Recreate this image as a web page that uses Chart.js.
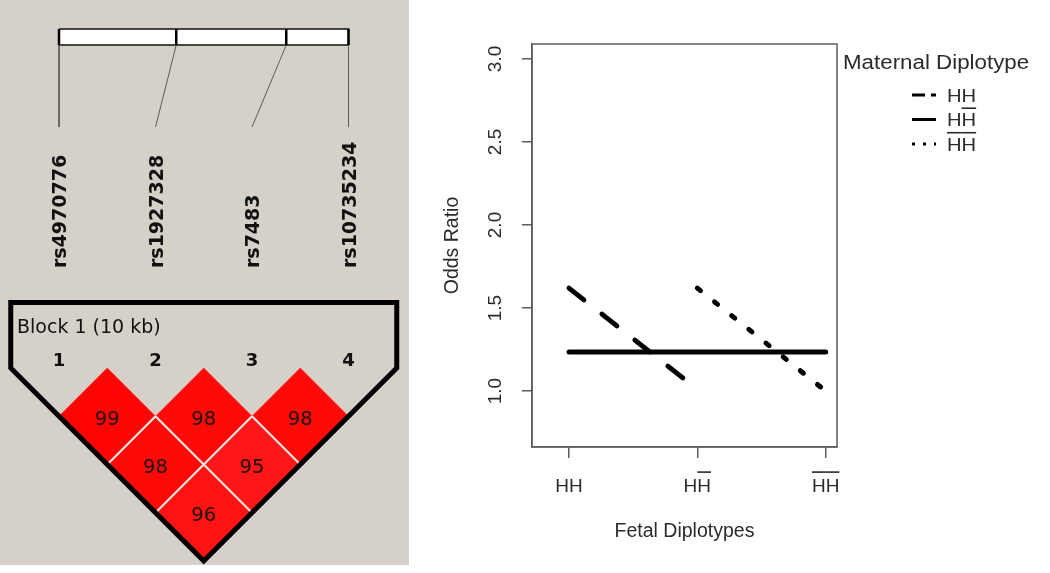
<!DOCTYPE html>
<html><head><meta charset="utf-8">
<script src="https://cdn.jsdelivr.net/npm/chart.js@4.4.1/dist/chart.umd.min.js"></script>
<style>
html,body{margin:0;padding:0;background:#fff;width:1050px;height:573px;overflow:hidden}
#ld{position:absolute;left:0;top:0;background:#d5d1c9}
#or{position:absolute;left:410px;top:0}
</style></head><body>
<canvas id="ld" width="409" height="565"></canvas>
<canvas id="or" width="640" height="573"></canvas>
<script>
// ---------------- DATA : LD block (Haploview) ----------------
const snpNames   = ['rs4970776', 'rs1927328', 'rs7483', 'rs10735234'];
const snpPosKb   = [0, 4.05, 7.85, 10.0];
const blockSpanKb = 10;
const blockLabel = 'Block 1 (10 kb)';
const ldPairs    = [[1,2],[2,3],[3,4],[1,3],[2,4],[1,4]];
const ldDprime   = [99, 98, 98, 98, 95, 96];

// ---------------- DATA : odds ratio plot ----------------
const fetalDiplotypes    = ['HH', 'HH\u0305', 'H\u0305H\u0305'];
const maternalDiplotypes = ['HH', 'HH\u0305', 'H\u0305H\u0305'];
const orMaternalHH       = [1.62, 1.01, null];
const orMaternalHHbar    = [1.235, 1.235, 1.235];
const orMaternalHbarHbar = [null, 1.62, 1.00];
const orTicks            = [1.0, 1.5, 2.0, 2.5, 3.0];
const xTitle = 'Fetal Diplotypes';
const yTitle = 'Odds Ratio';
const legendTitle = 'Maternal Diplotype';

// ---------------- LD panel ----------------
const LDL = { outlineTop: -0.679, numBase: -0.02, blockX: 0.565, blockBase: -0.363,
              nameBase: -1.036, barTop: -3.513, barBot: -3.347, connBot: -2.497 };
const nSnp = snpNames.length;
const kbToX = kb => 1 + kb / blockSpanKb * (nSnp - 1);
function dpColor(d) { const g = Math.max(0, Math.round(446 * (1 - d / 100))); return `rgb(255,${g},${g})`; }
function seg(a, b, color, width, order, extra) {
  return Object.assign({ data: [a, b], borderColor: color, borderWidth: width, pointRadius: 0, fill: false, order }, extra || {});
}
const ldDatasets = [];
// block outline
ldDatasets.push({
  data: [{x: 0.5, y: LDL.outlineTop}, {x: nSnp + 0.5, y: LDL.outlineTop}, {x: nSnp + 0.5, y: 0},
         {x: (1 + nSnp) / 2, y: nSnp / 2}, {x: 0.5, y: 0}, {x: 0.5, y: LDL.outlineTop}],
  borderColor: '#000', borderWidth: 5, borderJoinStyle: 'miter', borderCapStyle: 'square',
  pointRadius: 0, fill: false, order: 0
});
// diamonds
ldPairs.forEach(([i, j], k) => {
  const cx = (i + j) / 2, cy = (j - i) / 2;
  ldDatasets.push({
    data: [{x: cx, y: cy - 0.5}, {x: cx + 0.5, y: cy}, {x: cx, y: cy + 0.5}, {x: cx - 0.5, y: cy}, {x: cx, y: cy - 0.5}],
    borderColor: dpColor(ldDprime[k]), borderWidth: 0.5, backgroundColor: dpColor(ldDprime[k]),
    fill: 'shape', pointRadius: 0, order: 3
  });
});
// separators between neighbouring cells
const hasCell = (i, j) => ldPairs.some(p => p[0] === i && p[1] === j);
ldPairs.forEach(([i, j]) => {
  const cx = (i + j) / 2, cy = (j - i) / 2;
  if (hasCell(i - 1, j)) ldDatasets.push(seg({x: cx - 0.5, y: cy}, {x: cx, y: cy + 0.5}, '#efe9e2', 2.2, 2));
  if (hasCell(i, j + 1)) ldDatasets.push(seg({x: cx + 0.5, y: cy}, {x: cx, y: cy + 0.5}, '#efe9e2', 2.2, 2));
});
// gene bar
ldDatasets.push({
  data: [{x: kbToX(0), y: LDL.barTop}, {x: kbToX(blockSpanKb), y: LDL.barTop}, {x: kbToX(blockSpanKb), y: LDL.barBot},
         {x: kbToX(0), y: LDL.barBot}, {x: kbToX(0), y: LDL.barTop}],
  borderColor: '#111', borderWidth: 1.5, backgroundColor: '#ffffff', fill: 'shape', pointRadius: 0, order: 5
});
snpPosKb.forEach((kb, k) => {
  ldDatasets.push(seg({x: kbToX(kb), y: LDL.barTop}, {x: kbToX(kb), y: LDL.barBot}, '#000', 2.5, 4));
  ldDatasets.push(seg({x: kbToX(kb), y: LDL.barBot}, {x: k + 1, y: LDL.connBot}, '#5a5a5a', 1, 4));
});

const ldText = {
  id: 'ldText',
  afterDatasetsDraw(chart) {
    const {ctx, scales: {x, y}} = chart;
    const X = v => x.getPixelForValue(v), Y = v => y.getPixelForValue(v);
    ctx.save();
    ctx.textBaseline = 'alphabetic';
    ctx.fillStyle = '#1e1414';
    ctx.font = '19.5px "DejaVu Sans"';
    ctx.textAlign = 'center';
    ldPairs.forEach(([i, j], k) => ctx.fillText(String(ldDprime[k]), X((i + j) / 2), Y((j - i) / 2) + 8.3));
    ctx.fillStyle = '#111';
    ctx.font = 'bold 18px "DejaVu Sans"';
    snpNames.forEach((n, k) => ctx.fillText(String(k + 1), X(k + 1), Y(LDL.numBase)));
    ctx.font = '19px "DejaVu Sans"';
    ctx.textAlign = 'left';
    ctx.fillText(blockLabel, X(LDL.blockX), Y(LDL.blockBase));
    ctx.font = 'bold 19px "DejaVu Sans"';
    snpNames.forEach((n, k) => {
      ctx.save();
      ctx.translate(X(k + 1) + 7, Y(LDL.nameBase));
      ctx.rotate(-Math.PI / 2);
      ctx.textAlign = 'left';
      ctx.fillText(n, 0, 0);
      ctx.restore();
    });
    ctx.restore();
  }
};

new Chart(document.getElementById('ld'), {
  type: 'line',
  data: { datasets: ldDatasets },
  options: {
    responsive: false, animation: false, events: [],
    layout: { padding: 0 },
    plugins: { legend: { display: false }, tooltip: { enabled: false } },
    scales: {
      x: { type: 'linear', display: false, min: 0.3886, max: 4.6269 },
      y: { type: 'linear', display: false, reverse: true, min: -3.8135, max: 2.0414 }
    }
  },
  plugins: [ldText]
});

// ---------------- Odds ratio panel ----------------
const RF = '"Liberation Sans", Arial, sans-serif';
const TXT = '#2b2b2b';
const AX = '#5c5c5c';

function drawBarred(ctx, str, x, yBase, size, gap, align) {
  const glyphs = [];
  for (const ch of str) {
    if (ch === '\u0305') { if (glyphs.length) glyphs[glyphs.length - 1].bar = true; }
    else glyphs.push({ ch, bar: false });
  }
  const base = glyphs.map(g => g.ch).join('');
  const w = ctx.measureText(base).width;
  let cx = align === 'center' ? x - w / 2 : x;
  const capTop = yBase - size * 0.716;
  ctx.textAlign = 'left';
  ctx.textBaseline = 'alphabetic';
  glyphs.forEach(g => {
    const gw = ctx.measureText(g.ch).width;
    ctx.fillText(g.ch, cx, yBase);
    if (g.bar) ctx.fillRect(cx, capTop - gap - 1.6, gw, 1.6);
    cx += gw;
  });
}

function orSeries(label, vals, dash, legendDash) {
  return {
    label,
    data: vals.map((v, i) => (v == null ? null : { x: i + 1, y: v })).filter(Boolean),
    borderColor: '#000', borderWidth: 5, borderDash: dash, borderCapStyle: 'round', borderJoinStyle: 'round',
    pointRadius: 0, pointHoverRadius: 0, fill: false, legendDash
  };
}

const orText = {
  id: 'orText',
  afterDraw(chart) {
    const {ctx, chartArea: a, scales: {x, y}} = chart;
    ctx.save();
    ctx.strokeStyle = AX; ctx.lineWidth = 1.5;
    ctx.strokeRect(a.left, a.top, a.right - a.left, a.bottom - a.top);
    ctx.fillStyle = TXT;
    ctx.font = `19px ${RF}`;
    orTicks.forEach(v => {
      ctx.save();
      ctx.translate(84.5, y.getPixelForValue(v));
      ctx.rotate(-Math.PI / 2);
      ctx.textAlign = 'center'; ctx.textBaseline = 'alphabetic';
      ctx.fillText(v.toFixed(1), 0, 19 * 0.716 / 2);
      ctx.restore();
    });
    fetalDiplotypes.forEach((lab, i) => drawBarred(ctx, lab, x.getPixelForValue(i + 1), 491.5, 19, 5, 'center'));
    // legend
    ctx.save();
    ctx.translate(433, 69); ctx.scale(1.145, 1);
    ctx.font = `19.5px ${RF}`; ctx.textAlign = 'left'; ctx.textBaseline = 'alphabetic';
    ctx.fillText(legendTitle, 0, 0);
    ctx.restore();
    chart.data.datasets.forEach((ds, k) => {
      const yc = 95 + 24.5 * k;
      ctx.save();
      ctx.strokeStyle = ds.borderColor; ctx.lineWidth = 3; ctx.lineCap = 'butt';
      ctx.setLineDash(ds.legendDash);
      ctx.beginPath(); ctx.moveTo(502, yc); ctx.lineTo(526, yc); ctx.stroke();
      ctx.restore();
      ctx.save();
      ctx.translate(537, yc + 6.6); ctx.scale(1.12, 1);
      ctx.font = `18px ${RF}`;
      drawBarred(ctx, ds.label, 0, 0, 18, 4.2, 'left');
      ctx.restore();
    });
    ctx.restore();
  }
};

const xKeys = fetalDiplotypes.map((d, i) => i + 1);
new Chart(document.getElementById('or'), {
  type: 'line',
  data: {
    datasets: [
      orSeries(maternalDiplotypes[0], orMaternalHH, [19, 23], [13, 6]),
      orSeries(maternalDiplotypes[1], orMaternalHHbar, [], []),
      orSeries(maternalDiplotypes[2], orMaternalHbarHbar, [4, 18], [3, 8])
    ]
  },
  options: {
    responsive: false, animation: false, events: [],
    layout: { padding: { left: 0, top: 44, right: 213, bottom: 0 } },
    plugins: { legend: { display: false }, tooltip: { enabled: false } },
    scales: {
      x: {
        type: 'linear', min: 0.712, max: 3.088,
        afterBuildTicks: s => { s.ticks = xKeys.map(v => ({ value: v })); },
        afterFit: s => { s.height = 126; },
        grid: { display: true, drawOnChartArea: false, drawTicks: true, tickLength: 11, color: AX, lineWidth: 1.5 },
        border: { display: true, color: AX, width: 1.5 },
        ticks: { color: 'rgba(0,0,0,0)', font: { size: 19 } },
        title: { display: true, text: xTitle, color: TXT, font: { family: RF, size: 19.5 }, padding: { top: 0, bottom: 29.5 } }
      },
      y: {
        type: 'linear', min: 0.663, max: 3.09,
        afterBuildTicks: s => { s.ticks = orTicks.map(v => ({ value: v })); },
        afterFit: s => { s.width = 122; },
        grid: { display: true, drawOnChartArea: false, drawTicks: true, tickLength: 10, color: AX, lineWidth: 1.5 },
        border: { display: true, color: AX, width: 1.5 },
        ticks: { color: 'rgba(0,0,0,0)', font: { size: 19 } },
        title: { display: true, text: yTitle, color: TXT, font: { family: RF, size: 19.5 }, padding: { top: 30.5, bottom: 0 } }
      }
    }
  },
  plugins: [orText]
});
</script>
</body></html>
